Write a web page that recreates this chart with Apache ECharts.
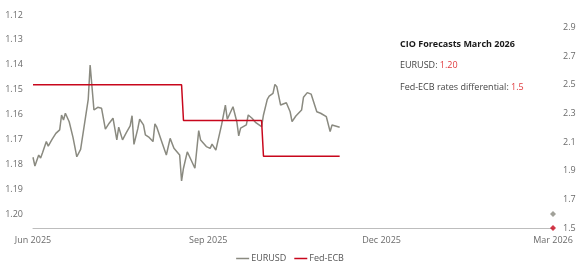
<!DOCTYPE html>
<html>
<head>
<meta charset="utf-8">
<script src="https://cdn.jsdelivr.net/npm/echarts@6/dist/echarts.min.js"></script>
<style>
html,body{margin:0;padding:0;background:#fff;}
#chart{width:580px;height:269px;}
</style>
</head>
<body>
<div id="chart"></div>
<script>
// ---- data ----
const eurusdDates = [
'2025-06-01','2025-06-02','2025-06-03','2025-06-04','2025-06-05','2025-06-06','2025-06-08','2025-06-09','2025-06-11','2025-06-13',
'2025-06-15','2025-06-16','2025-06-17','2025-06-18','2025-06-20','2025-06-22','2025-06-24','2025-06-26','2025-06-30','2025-07-01',
'2025-07-02','2025-07-03','2025-07-05','2025-07-07','2025-07-09','2025-07-10','2025-07-11','2025-07-13','2025-07-15','2025-07-16',
'2025-07-18','2025-07-20','2025-07-22','2025-07-23','2025-07-24','2025-07-26','2025-07-27','2025-07-29','2025-07-30','2025-08-01',
'2025-08-03','2025-08-04','2025-08-05','2025-08-06','2025-08-08','2025-08-10','2025-08-12','2025-08-14','2025-08-15','2025-08-17',
'2025-08-18','2025-08-19','2025-08-21','2025-08-25','2025-08-27','2025-08-28','2025-08-31','2025-09-02','2025-09-03','2025-09-05',
'2025-09-06','2025-09-08','2025-09-10','2025-09-11','2025-09-14','2025-09-16','2025-09-17','2025-09-18','2025-09-21','2025-09-22',
'2025-09-24','2025-09-26','2025-09-29','2025-09-30','2025-10-02','2025-10-03','2025-10-05','2025-10-06','2025-10-07','2025-10-09',
'2025-10-10','2025-10-12','2025-10-14','2025-10-15','2025-10-17','2025-10-20','2025-10-21','2025-10-23','2025-10-25','2025-10-28',
'2025-10-30','2025-11-02','2025-11-04','2025-11-05','2025-11-09'
];
const eurusdValues = [
1.1772,1.1807,1.1803,1.1763,1.1775,1.1754,1.1709,1.1727,1.1700,1.1676,
1.1662,1.1602,1.1622,1.1595,1.1629,1.1692,1.1770,1.1740,1.1539,1.1401,
1.1408,1.1582,1.1571,1.1575,1.1659,1.1665,1.1635,1.1615,1.1702,1.1651,
1.1702,1.1673,1.1646,1.1605,1.1720,1.1658,1.1619,1.1642,1.1682,1.1692,
1.1709,1.1638,1.1651,1.1646,1.1719,1.1763,1.1696,1.1736,1.1740,1.1763,
1.1867,1.1816,1.1750,1.1816,1.1665,1.1703,1.1729,1.1736,1.1719,1.1743,
1.1709,1.1642,1.1562,1.1619,1.1569,1.1629,1.1686,1.1655,1.1642,1.1602,
1.1615,1.1633,1.1649,1.1602,1.1539,1.1526,1.1515,1.1479,1.1488,1.1562,
1.1558,1.1553,1.1589,1.1629,1.1606,1.1582,1.1531,1.1512,1.1518,1.1589,
1.1595,1.1609,1.1669,1.1642,1.1651
];
const fedEcbDates = ['2025-06-01','2025-08-18','2025-08-19','2025-09-29','2025-09-30','2025-11-09'];
const fedEcbValues = [2.5, 2.5, 2.25, 2.25, 2.0, 2.0];

const forecastDate = '2026-03-01';
const forecastEurusd = 1.20;
const forecastFedEcb = 1.5;

const xTickDates = ['2025-06-01','2025-09-01','2025-12-01','2026-03-01'];
const xTickLabels = ['Jun 2025','Sep 2025','Dec 2025','Mar 2026'];
const leftTicks = [1.12,1.13,1.14,1.15,1.16,1.17,1.18,1.19,1.20];
const rightTicks = [1.5,1.7,1.9,2.1,2.3,2.5,2.7,2.9];

const annTitle = 'CIO Forecasts March 2026';
const annEurLabel = 'EURUSD: ';
const annEurValue = '1.20';
const annFedLabel = 'Fed-ECB rates differential: ';
const annFedValue = '1.5';

// ---- helpers ----
function ts(s){ const p = s.split('-').map(Number); return Date.UTC(p[0], p[1]-1, p[2]); }
const xTickTs = xTickDates.map(ts);

const GREY = '#8a8a80';
const RED = '#c8071c';
const FONT = '"Open Sans", "Noto Sans", sans-serif';
const LABEL_COLOR = '#6b6b6b';

const chart = echarts.init(document.getElementById('chart'), null, {renderer: 'canvas'});
chart.setOption({
  animation: false,
  textStyle: {fontFamily: FONT},
  grid: {left: 33, right: 27, top: 13, bottom: 41, containLabel: false},
  legend: {
    data: ['EURUSD', 'Fed-ECB'],
    bottom: 1,
    left: 'center',
    icon: 'rect',
    itemWidth: 13,
    itemHeight: 1.5,
    itemGap: 8,
    textStyle: {fontFamily: FONT, fontSize: 9, color: '#555', padding: [0,0,0,-3]}
  },
  xAxis: {
    type: 'value',
    min: ts('2025-06-01'),
    max: ts('2026-03-01'),
    axisLine: {lineStyle: {color: '#bdbdbd', width: 1}},
    axisTick: {show: false},
    splitLine: {show: false},
    axisLabel: {
      customValues: xTickTs,
      color: LABEL_COLOR, fontSize: 9, fontFamily: FONT, margin: 8,
      formatter: function (v) {
        const i = xTickTs.indexOf(v);
        return i >= 0 ? xTickLabels[i] : '';
      }
    }
  },
  yAxis: [
    {
      type: 'value',
      inverse: true,
      min: 1.1192,
      max: 1.20563,
      position: 'left',
      axisLine: {show: false},
      axisTick: {show: false},
      splitLine: {show: false},
      axisLabel: {
        customValues: leftTicks,
        color: LABEL_COLOR, fontSize: 9, fontFamily: FONT, margin: 10,
        formatter: function (v) { return Number(v).toFixed(2); }
      }
    },
    {
      type: 'value',
      min: 1.5,
      max: 3.0,
      position: 'right',
      axisLine: {show: false},
      axisTick: {show: false},
      splitLine: {show: false},
      axisLabel: {
        customValues: rightTicks,
        color: LABEL_COLOR, fontSize: 9, fontFamily: FONT, margin: 10,
        formatter: function (v) { return Number(v).toFixed(1); }
      }
    }
  ],
  series: [
    {
      name: 'EURUSD',
      type: 'line',
      yAxisIndex: 0,
      symbol: 'none',
      color: GREY,
      lineStyle: {color: GREY, width: 1.5},
      data: eurusdDates.map((d, i) => [ts(d), eurusdValues[i]])
    },
    {
      name: 'Fed-ECB',
      type: 'line',
      yAxisIndex: 1,
      symbol: 'none',
      color: RED,
      lineStyle: {color: RED, width: 1.5},
      data: fedEcbDates.map((d, i) => [ts(d), fedEcbValues[i]])
    },
    {
      name: 'EURUSD forecast',
      type: 'scatter',
      yAxisIndex: 0,
      symbol: 'diamond',
      symbolSize: 6,
      itemStyle: {color: GREY},
      data: [[ts(forecastDate), forecastEurusd]]
    },
    {
      name: 'Fed-ECB forecast',
      type: 'scatter',
      yAxisIndex: 1,
      symbol: 'diamond',
      symbolSize: 6,
      itemStyle: {color: RED},
      data: [[ts(forecastDate), forecastFedEcb]]
    }
  ],
  graphic: [
    {
      type: 'text', left: 400, top: 40,
      style: {text: annTitle, fontFamily: FONT, fontSize: 9, fontWeight: 'bold', fill: '#1a1a1a'}
    },
    {
      type: 'text', left: 400, top: 61,
      style: {
        text: '{a|' + annEurLabel + '}{b|' + annEurValue + '}',
        rich: {
          a: {fontFamily: FONT, fontSize: 9, fill: '#444', color: '#444'},
          b: {fontFamily: FONT, fontSize: 9, fill: '#e03a3e', color: '#e03a3e'}
        }
      }
    },
    {
      type: 'text', left: 400, top: 83,
      style: {
        text: '{a|' + annFedLabel + '}{b|' + annFedValue + '}',
        rich: {
          a: {fontFamily: FONT, fontSize: 9, fill: '#444', color: '#444'},
          b: {fontFamily: FONT, fontSize: 9, fill: '#e03a3e', color: '#e03a3e'}
        }
      }
    }
  ]
});
</script>
</body>
</html>
